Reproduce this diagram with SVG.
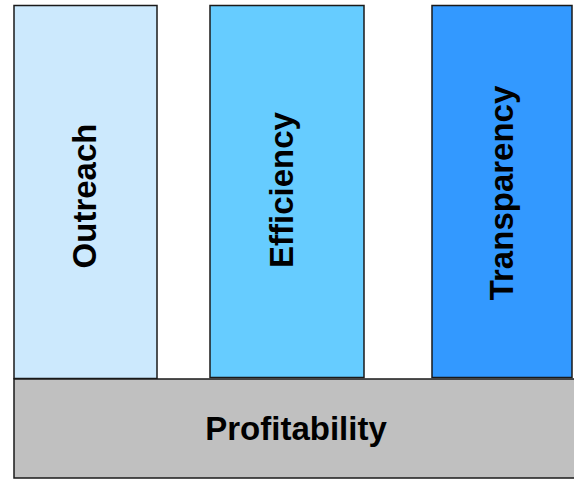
<svg xmlns="http://www.w3.org/2000/svg" width="574" height="480" viewBox="0 0 574 480">
<style>
.box{stroke:#1a1a1a;stroke-width:1.5}
.lbl{font-family:"Liberation Sans",Arial,sans-serif;font-weight:bold;font-size:33px;fill:#000;text-anchor:middle}
</style>
<rect x="0" y="0" width="574" height="480" fill="#ffffff"/>
<g id="outreach">
<rect class="box" x="14" y="5.5" width="143" height="373" fill="#CCE9FD"/>
<text class="lbl" transform="translate(96,196) rotate(-90)">Outreach</text>
</g>
<g id="efficiency">
<rect class="box" x="210" y="5.5" width="154" height="372" fill="#66CCFF"/>
<text class="lbl" transform="translate(293,190) rotate(-90)">Efficiency</text>
</g>
<g id="transparency">
<rect class="box" x="432" y="5.5" width="140" height="372" fill="#3399FF"/>
<text class="lbl" transform="translate(513,193) rotate(-90)">Transparency</text>
</g>
<g id="profitability">
<rect class="box" x="14" y="379" width="562" height="99" fill="#C0C0C0"/>
<text class="lbl" x="296" y="440">Profitability</text>
</g>
<g id="connectors"></g>
</svg>
